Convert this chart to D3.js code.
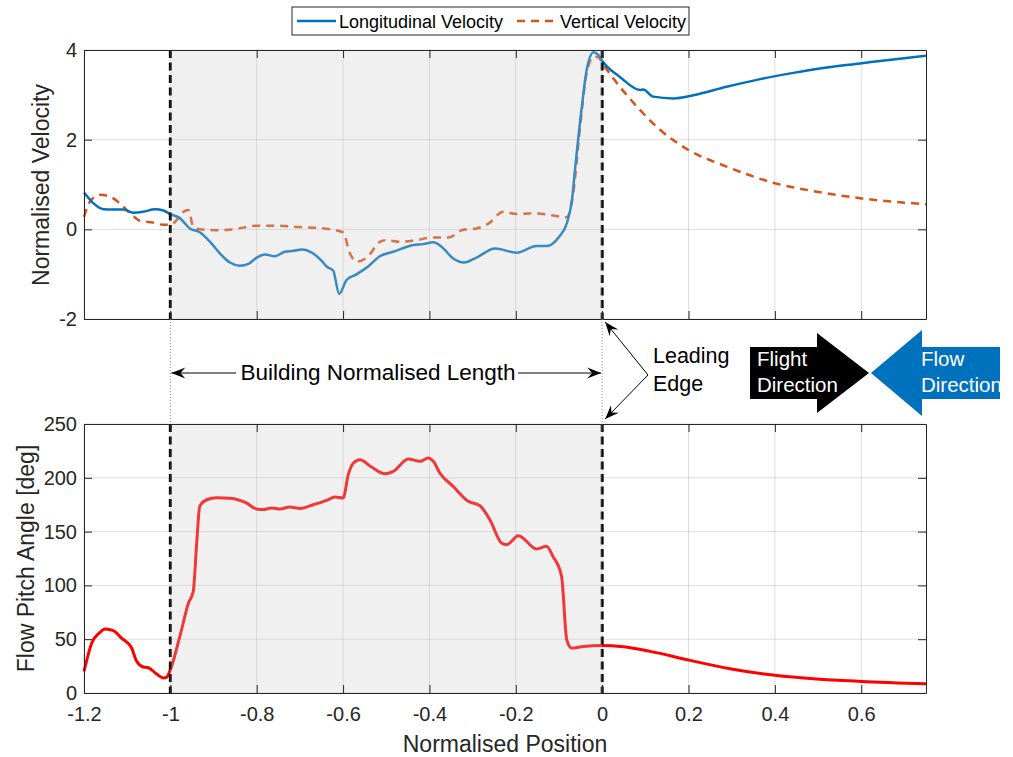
<!DOCTYPE html>
<html>
<head>
<meta charset="utf-8">
<script src="https://cdn.jsdelivr.net/npm/d3@7"></script>
<style>
  body { margin: 0; background: #fff; }
  svg text { font-family: "Liberation Sans", Arial, sans-serif; }
</style>
</head>
<body>
<div id="chartDiv"></div>
<script>
// ---- data ----
var xTicks = [-1.2, -1, -0.8, -0.6, -0.4, -0.2, 0, 0.2, 0.4, 0.6]
var velTicks = [-2, 0, 2, 4]
var angleTicks = [0, 50, 100, 150, 200, 250]

// longitudinal velocity (blue, solid)
var longPos = [-1.2, -1.178, -1.155, -1.132, -1.109, -1.086, -1.063, -1.036, -1.016, -1.0,
  -0.978, -0.955, -0.931, -0.908, -0.885, -0.862, -0.839, -0.819, -0.8, -0.781,
  -0.758, -0.735, -0.715, -0.696, -0.669, -0.65, -0.638, -0.623, -0.609, -0.592,
  -0.568, -0.542, -0.515, -0.484, -0.437, -0.414, -0.391, -0.372, -0.345, -0.32,
  -0.291, -0.248, -0.198, -0.152, -0.128, -0.1, -0.082, -0.07, -0.063, -0.047,
  -0.036, -0.02, -0.009, 0.003, 0.041, 0.088, 0.095, 0.118, 0.165, 0.211,
  0.288, 0.366, 0.443, 0.52, 0.597, 0.674, 0.75]
var longVel = [0.82, 0.58, 0.45, 0.44, 0.44, 0.37, 0.39, 0.45, 0.42, 0.34,
  0.25, 0.02, -0.07, -0.28, -0.54, -0.74, -0.81, -0.77, -0.63, -0.56,
  -0.60, -0.50, -0.48, -0.45, -0.54, -0.70, -0.83, -0.92, -1.44, -1.13,
  -1.0, -0.83, -0.60, -0.50, -0.35, -0.33, -0.29, -0.39, -0.65, -0.74,
  -0.63, -0.43, -0.52, -0.37, -0.37, -0.17, 0.13, 0.65, 1.32, 2.74,
  3.55, 3.95, 3.89, 3.72, 3.40, 3.11, 3.12, 2.96, 2.92, 2.99,
  3.18, 3.35, 3.49, 3.61, 3.70, 3.79, 3.87]

// vertical velocity (orange, dashed)
var vertPos = [-1.2, -1.186, -1.163, -1.14, -1.117, -1.093, -1.07, -1.04, -1.016, -1.0,
  -0.985, -0.97, -0.958, -0.947, -0.931, -0.893, -0.854, -0.8, -0.754, -0.7,
  -0.653, -0.623, -0.6, -0.584, -0.568, -0.545, -0.515, -0.5, -0.468, -0.43,
  -0.391, -0.356, -0.322, -0.291, -0.264, -0.229, -0.198, -0.16, -0.121, -0.082,
  -0.067, -0.051, -0.036, -0.02, -0.009, 0.003, 0.041, 0.088, 0.134, 0.2,
  0.288, 0.396, 0.497, 0.601, 0.75]
var vertVel = [0.28, 0.62, 0.77, 0.73, 0.58, 0.36, 0.19, 0.15, 0.10, 0.10,
  0.21, 0.39, 0.43, 0.06, 0.0, -0.02, 0.0, 0.08, 0.08, 0.05,
  0.03, -0.01, -0.07, -0.54, -0.72, -0.63, -0.28, -0.24, -0.28, -0.24,
  -0.18, -0.18, -0.01, 0.02, 0.12, 0.39, 0.34, 0.36, 0.32, 0.27,
  0.80, 2.29, 3.48, 3.85, 3.84, 3.67, 3.18, 2.66, 2.22, 1.77,
  1.40, 1.04, 0.84, 0.69, 0.56]

// flow pitch angle (red)
var anglePos = [-1.2, -1.182, -1.163, -1.151, -1.132, -1.113, -1.09, -1.078, -1.063, -1.051,
  -1.032, -1.016, -1.009, -1.0, -0.978, -0.958, -0.947, -0.939, -0.932, -0.916,
  -0.893, -0.862, -0.824, -0.8, -0.785, -0.765, -0.746, -0.723, -0.7, -0.669,
  -0.638, -0.619, -0.6, -0.588, -0.576, -0.561, -0.534, -0.503, -0.484, -0.449,
  -0.422, -0.403, -0.391, -0.376, -0.345, -0.31, -0.283, -0.26, -0.233, -0.221,
  -0.194, -0.152, -0.129, -0.114, -0.094, -0.082, -0.071, -0.044, 0.0, 0.049,
  0.111, 0.204, 0.296, 0.4, 0.496, 0.6, 0.75]
var angleVal = [20, 46.5, 56.3, 59.5, 58, 51, 42, 29.4, 24.2, 23.5,
  17.7, 14, 14.5, 21.7, 52.6, 83.6, 94.4, 139.4, 173.4, 179.6,
  181.5, 181, 176.6, 171, 170.5, 172, 171, 172.9, 171.5, 175,
  179, 182.1, 181.2, 202.9, 213.8, 216.8, 210, 203.8, 206, 217.5,
  215.3, 218.4, 215.3, 204.5, 192, 178.1, 174, 161, 139.4, 137.8,
  146.2, 133.8, 136.3, 127, 108.4, 49.5, 41.8, 43.3, 44.2, 42.9,
  38.7, 30.3, 22.6, 16.4, 13, 10.8, 8.6]

// building extent (normalised)
var buildingStart = -1
var buildingEnd = 0

// ---- layout ----
var svgWidth = 1013
var svgHeight = 757
var plotLeft = 84
var plotRight = 926
var topY0 = 50, topY1 = 319
var botY0 = 424, botY1 = 693
var axisColor = "#262626"
var gridColor = "rgba(38,38,38,0.15)"
var blue = "#0072BD"
var orange = "#D95319"

var xScale = d3.scaleLinear().domain([-1.2, 0.75]).range([plotLeft, plotRight])
var vScale = d3.scaleLinear().domain([-2, 4]).range([topY1, topY0])
var aScale = d3.scaleLinear().domain([0, 250]).range([botY1, botY0])

var svg = d3.select("#chartDiv").append("svg")
  .attr("width", svgWidth)
  .attr("height", svgHeight)

function fmt(d){
  // matlab style labels, plain hyphen
  return String(Math.round(d*10)/10)
}

function drawGrid(yScale, yTicks, y0, y1){
  xTicks.forEach(function(t){
    svg.append("line")
      .attr("x1", xScale(t)).attr("x2", xScale(t))
      .attr("y1", y0).attr("y2", y1)
      .style("stroke", gridColor).style("stroke-width", 1)
  })
  yTicks.forEach(function(t){
    svg.append("line")
      .attr("x1", plotLeft).attr("x2", plotRight)
      .attr("y1", yScale(t)).attr("y2", yScale(t))
      .style("stroke", gridColor).style("stroke-width", 1)
  })
}

function drawLine(xs, ys, yScale, color, width, dash){
  var pts = xs.map(function(x, i){ return [x, ys[i]] })
  var line = d3.line()
    .x(function(d){ return xScale(d[0]) })
    .y(function(d){ return yScale(d[1]) })
    .curve(d3.curveMonotoneX)
  svg.append("path")
    .datum(pts)
    .attr("d", line)
    .style("fill", "none")
    .style("stroke", color)
    .style("stroke-width", width)
    .style("stroke-dasharray", dash || null)
    .style("stroke-linejoin", "round")
}

// dashed black lines marking the building ends
function drawEdges(y0, y1){
  [buildingStart, buildingEnd].forEach(function(b){
    svg.append("line")
      .attr("x1", xScale(b)).attr("x2", xScale(b))
      .attr("y1", y0).attr("y2", y1)
      .style("stroke", "#000")
      .style("stroke-width", 3)
      .style("stroke-dasharray", "8,4.5")
  })
}

// translucent patch over the building (drawn above lines)
function drawPatch(y0, y1){
  svg.append("rect")
    .attr("x", xScale(buildingStart))
    .attr("y", y0)
    .attr("width", xScale(buildingEnd) - xScale(buildingStart))
    .attr("height", y1 - y0)
    .style("fill", "rgb(200,200,200)")
    .style("fill-opacity", 0.28)
}

function drawAxes(yScale, yTicks, y0, y1, showX){
  var gB = svg.append("g").attr("transform", `translate(0,${y1})`)
    .call(d3.axisBottom(xScale).tickValues(xTicks).tickSize(-8).tickSizeOuter(0)
      .tickPadding(14).tickFormat(showX ? fmt : ""))
  var gT = svg.append("g").attr("transform", `translate(0,${y0})`)
    .call(d3.axisTop(xScale).tickValues(xTicks).tickSize(-8).tickSizeOuter(0).tickFormat(""))
  var gL = svg.append("g").attr("transform", `translate(${plotLeft},0)`)
    .call(d3.axisLeft(yScale).tickValues(yTicks).tickSize(-8).tickSizeOuter(0)
      .tickPadding(7).tickFormat(fmt))
  var gR = svg.append("g").attr("transform", `translate(${plotRight},0)`)
    .call(d3.axisRight(yScale).tickValues(yTicks).tickSize(-8).tickSizeOuter(0).tickFormat(""))

  ;[gB, gT, gL, gR].forEach(function(g){
    g.selectAll(".domain").style("stroke", axisColor).style("stroke-width", 1)
    g.selectAll(".tick line").style("stroke", axisColor).style("stroke-width", 1)
    g.selectAll(".tick text")
      .style("fill", axisColor)
      .style("font-size", "20px")
      .style("font-family", '"Liberation Sans", Arial, sans-serif')
  })
}

// ---- top plot: velocities ----
drawGrid(vScale, velTicks, topY0, topY1)
drawLine(vertPos, vertVel, vScale, orange, 2.5, "8,6")
drawLine(longPos, longVel, vScale, blue, 2.5)
drawEdges(topY0, topY1)
drawPatch(topY0, topY1)
drawAxes(vScale, velTicks, topY0, topY1, false)

// ---- bottom plot: pitch angle ----
drawGrid(aScale, angleTicks, botY0, botY1)
drawLine(anglePos, angleVal, aScale, "#FF0000", 3)
drawEdges(botY0, botY1)
drawPatch(botY0, botY1)
drawAxes(aScale, angleTicks, botY0, botY1, true)

// dotted guides between the two plots
;[buildingStart, buildingEnd].forEach(function(b){
  svg.append("line")
    .attr("x1", xScale(b)).attr("x2", xScale(b))
    .attr("y1", topY1).attr("y2", botY0)
    .style("stroke", "#8c8c8c")
    .style("stroke-width", 1)
    .style("stroke-dasharray", "1,2")
})

// ---- axis labels ----
svg.append("text")
  .attr("transform", "translate(49,185) rotate(-90)")
  .attr("text-anchor", "middle")
  .style("font-size", "23px").style("fill", axisColor)
  .text("Normalised Velocity")

svg.append("text")
  .attr("transform", `translate(34,${(botY0+botY1)/2}) rotate(-90)`)
  .attr("text-anchor", "middle")
  .style("font-size", "23px").style("fill", axisColor)
  .text("Flow Pitch Angle [deg]")

svg.append("text")
  .attr("x", (plotLeft+plotRight)/2)
  .attr("y", 752)
  .attr("text-anchor", "middle")
  .style("font-size", "23px").style("fill", axisColor)
  .text("Normalised Position")

// ---- legend ----
var legend = svg.append("g")
legend.append("rect")
  .attr("x", 292).attr("y", 7).attr("width", 397).attr("height", 28)
  .style("fill", "#fff").style("stroke", axisColor).style("stroke-width", 1)
legend.append("line")
  .attr("x1", 297).attr("x2", 336).attr("y1", 21).attr("y2", 21)
  .style("stroke", blue).style("stroke-width", 2.5)
legend.append("text")
  .attr("x", 339).attr("y", 28)
  .style("font-size", "18px").style("fill", "#000")
  .text("Longitudinal Velocity")
legend.append("line")
  .attr("x1", 517).attr("x2", 556).attr("y1", 21).attr("y2", 21)
  .style("stroke", orange).style("stroke-width", 2.5).style("stroke-dasharray", "8,6")
legend.append("text")
  .attr("x", 560).attr("y", 28)
  .style("font-size", "18px").style("fill", "#000")
  .text("Vertical Velocity")

// ---- annotations ----
// barbed arrow head like matlab 'vback2'
function arrow(x1, y1, x2, y2){
  svg.append("line")
    .attr("x1", x1).attr("y1", y1).attr("x2", x2).attr("y2", y2)
    .style("stroke", "#000").style("stroke-width", 1)
  var ang = Math.atan2(y2 - y1, x2 - x1) * 180 / Math.PI
  svg.append("path")
    .attr("d", "M0,0 L-14,-5.5 L-9,0 L-14,5.5 Z")
    .attr("transform", `translate(${x2},${y2}) rotate(${ang})`)
    .style("fill", "#000")
}

var annY = 373
arrow(236, annY, xScale(buildingStart) + 1, annY)
arrow(518, annY, xScale(buildingEnd) - 1, annY)
svg.append("text")
  .attr("x", 378).attr("y", 380)
  .attr("text-anchor", "middle")
  .style("font-size", "22.5px").style("fill", "#000")
  .text("Building Normalised Length")

arrow(648, 375, xScale(buildingEnd) + 3, topY1 + 3)
arrow(648, 375, xScale(buildingEnd) + 3, botY0 - 5)
svg.append("text").attr("x", 653).attr("y", 363)
  .style("font-size", "21.5px").style("fill", "#000").text("Leading")
svg.append("text").attr("x", 653).attr("y", 391)
  .style("font-size", "21.5px").style("fill", "#000").text("Edge")

// flight direction (black block arrow)
svg.append("polygon")
  .attr("points", "750,347 817,347 817,333 869,373 817,413 817,399 750,399")
  .style("fill", "#000")
svg.append("text").attr("x", 757).attr("y", 366)
  .style("font-size", "20.5px").style("fill", "#fff").text("Flight")
svg.append("text").attr("x", 757).attr("y", 392)
  .style("font-size", "20.5px").style("fill", "#fff").text("Direction")

// flow direction (blue block arrow, cut at the right)
svg.append("clipPath").attr("id", "flowClip")
  .append("rect").attr("x", 860).attr("y", 320).attr("width", 140).attr("height", 110)
var flow = svg.append("g").attr("clip-path", "url(#flowClip)")
flow.append("polygon")
  .attr("points", "871,373 922,330 922,347 1000,347 1000,399 922,399 922,416")
  .style("fill", blue)
flow.append("text").attr("x", 921).attr("y", 366)
  .style("font-size", "20.5px").style("fill", "#fff").text("Flow")
flow.append("text").attr("x", 921).attr("y", 392)
  .style("font-size", "20.5px").style("fill", "#fff").text("Direction")
</script>
</body>
</html>
